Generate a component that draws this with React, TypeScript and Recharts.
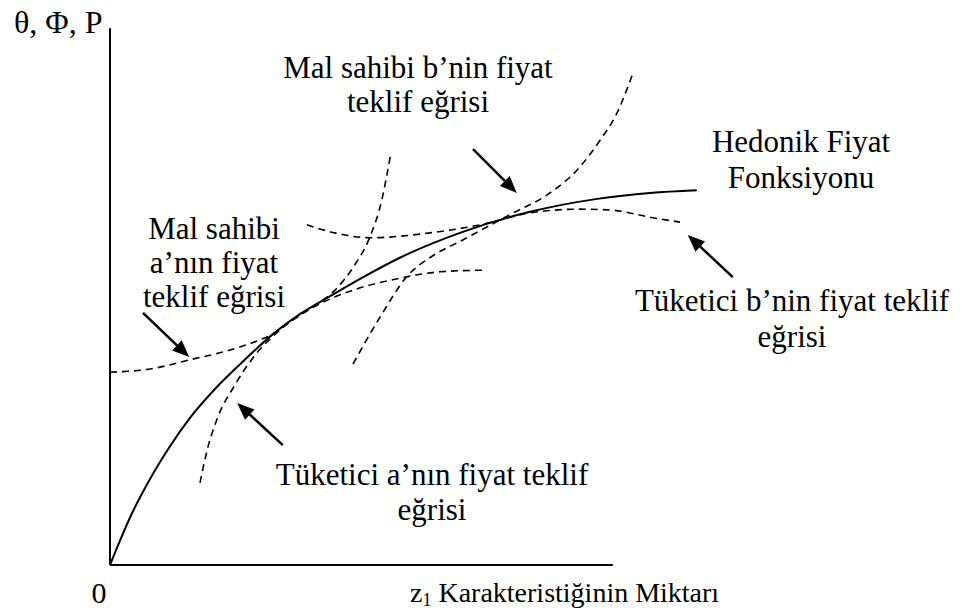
import React from "react";
import { LineChart, Line, XAxis, YAxis, ReferenceLine } from "recharts";

// Hedonic price function and the four bid / offer curves (x: quantity of z1, y: price)
const hedonicPrice = [
  { x: 0, y: 0 },
  { x: 0.17, y: 0.46 },
  { x: 0.33, y: 0.87 },
  { x: 0.62, y: 1.5 },
  { x: 1.0, y: 2.2 },
  { x: 1.33, y: 2.72 },
  { x: 1.75, y: 3.26 },
  { x: 2.17, y: 3.72 },
  { x: 2.72, y: 4.28 },
  { x: 3.17, y: 4.65 },
  { x: 3.67, y: 4.98 },
  { x: 4.25, y: 5.35 },
  { x: 4.83, y: 5.69 },
  { x: 5.88, y: 6.17 },
  { x: 7.0, y: 6.54 },
  { x: 8.12, y: 6.78 },
  { x: 9.0, y: 6.89 },
  { x: 9.78, y: 6.94 },
];

const sellerA = [
  { x: 0, y: 3.57 },
  { x: 0.67, y: 3.63 },
  { x: 1.33, y: 3.8 },
  { x: 2.0, y: 3.98 },
  { x: 2.5, y: 4.17 },
  { x: 2.72, y: 4.28 },
  { x: 3.0, y: 4.5 },
  { x: 3.45, y: 4.81 },
  { x: 4.0, y: 5.07 },
  { x: 4.83, y: 5.31 },
  { x: 5.5, y: 5.43 },
  { x: 6.22, y: 5.46 },
];

const consumerA = [
  { x: 1.5, y: 1.52 },
  { x: 1.62, y: 2.13 },
  { x: 1.78, y: 2.69 },
  { x: 2.08, y: 3.33 },
  { x: 2.42, y: 3.89 },
  { x: 2.72, y: 4.24 },
  { x: 3.08, y: 4.57 },
  { x: 3.45, y: 4.83 },
  { x: 3.75, y: 5.09 },
  { x: 4.08, y: 5.56 },
  { x: 4.33, y: 6.07 },
  { x: 4.53, y: 6.76 },
  { x: 4.67, y: 7.56 },
];

const consumerB = [
  { x: 3.28, y: 6.3 },
  { x: 3.75, y: 6.15 },
  { x: 4.33, y: 6.06 },
  { x: 5.33, y: 6.15 },
  { x: 6.17, y: 6.3 },
  { x: 7.0, y: 6.52 },
  { x: 7.83, y: 6.59 },
  { x: 8.38, y: 6.57 },
  { x: 9.0, y: 6.44 },
  { x: 9.5, y: 6.35 },
];

const sellerB = [
  { x: 4.05, y: 3.72 },
  { x: 4.5, y: 4.59 },
  { x: 4.97, y: 5.37 },
  { x: 5.33, y: 5.69 },
  { x: 5.88, y: 6.02 },
  { x: 6.72, y: 6.52 },
  { x: 7.28, y: 6.85 },
  { x: 7.83, y: 7.37 },
  { x: 8.17, y: 7.87 },
  { x: 8.45, y: 8.37 },
  { x: 8.7, y: 9.06 },
];

// Pointer arrows: [tail, head]
const arrows = [
  [{ x: 0.55, y: 4.67 }, { x: 1.32, y: 3.85 }],
  [{ x: 2.88, y: 2.22 }, { x: 2.12, y: 3.0 }],
  [{ x: 6.05, y: 7.7 }, { x: 6.78, y: 6.89 }],
  [{ x: 10.38, y: 5.33 }, { x: 9.63, y: 6.11 }],
];

const X_DOMAIN = [0, 11];
const Y_DOMAIN = [0, 10];
const X_AXIS_END = 8.38;
const Y_AXIS_END = 9.94;

const FONT = "'Liberation Serif', 'Times New Roman', serif";
const LABEL_SIZE = 31;

const ArrowShape = (props: any) => {
  const { x1, y1, x2, y2 } = props;
  const dx = x2 - x1;
  const dy = y2 - y1;
  const len = Math.sqrt(dx * dx + dy * dy) || 1;
  const ux = dx / len;
  const uy = dy / len;
  const headLen = 17;
  const half = 7;
  const bx = x2 - ux * headLen;
  const by = y2 - uy * headLen;
  const px = -uy * half;
  const py = ux * half;
  return (
    <g>
      <line x1={x1} y1={y1} x2={bx} y2={by} stroke="#000" strokeWidth={2.5} />
      <polygon
        points={`${x2},${y2} ${bx + px},${by + py} ${bx - px},${by - py}`}
        fill="#000"
      />
    </g>
  );
};

type Lbl = { lines: string[]; cx: number; y: number; gap: number };

const labels: Lbl[] = [
  { lines: ["Mal sahibi b\u2019nin fiyat", "teklif eğrisi"], cx: 418, y: 78, gap: 34 },
  { lines: ["Hedonik Fiyat", "Fonksiyonu"], cx: 801, y: 152, gap: 36 },
  { lines: ["Mal sahibi", "a\u2019nın fiyat", "teklif eğrisi"], cx: 214, y: 239, gap: 34 },
  { lines: ["Tüketici b\u2019nin fiyat teklif", "eğrisi"], cx: 792, y: 311, gap: 36 },
  { lines: ["Tüketici a\u2019nın fiyat teklif", "eğrisi"], cx: 432, y: 485, gap: 35 },
];

const dashed = "7 5";

export default function App() {
  return (
    <div style={{ position: "absolute", left: 0, top: 0, width: 971, height: 612, background: "#fff" }}>
      <LineChart
        width={971}
        height={612}
        margin={{ top: 25, right: 201, bottom: 47, left: 110 }}
      >
        <XAxis type="number" dataKey="x" domain={X_DOMAIN} hide allowDataOverflow />
        <YAxis type="number" dataKey="y" domain={Y_DOMAIN} hide allowDataOverflow />
        <Line data={sellerA} dataKey="y" type="monotone" dot={false} stroke="#000" strokeWidth={1.6} strokeDasharray={dashed} isAnimationActive={false} />
        <Line data={consumerA} dataKey="y" type="monotone" dot={false} stroke="#000" strokeWidth={1.6} strokeDasharray={dashed} isAnimationActive={false} />
        <Line data={consumerB} dataKey="y" type="monotone" dot={false} stroke="#000" strokeWidth={1.6} strokeDasharray={dashed} isAnimationActive={false} />
        <Line data={sellerB} dataKey="y" type="monotone" dot={false} stroke="#000" strokeWidth={1.6} strokeDasharray={dashed} isAnimationActive={false} />
        <Line data={hedonicPrice} dataKey="y" type="monotone" dot={false} stroke="#000" strokeWidth={2} isAnimationActive={false} />
        <ReferenceLine
          segment={[{ x: 0, y: 0 }, { x: 0, y: Y_AXIS_END }]}
          stroke="#000"
          strokeWidth={2}
          ifOverflow="visible"
        />
        <ReferenceLine
          segment={[{ x: 0, y: 0 }, { x: X_AXIS_END, y: 0 }]}
          stroke="#000"
          strokeWidth={2}
          ifOverflow="visible"
        />
        {arrows.map((seg, i) => (
          <ReferenceLine key={i} segment={seg} ifOverflow="visible" shape={ArrowShape} />
        ))}
      </LineChart>
      <svg
        width={971}
        height={612}
        style={{ position: "absolute", left: 0, top: 0, pointerEvents: "none" }}
      >
        <g fontFamily={FONT} fill="#000">
          <text x={14} y={33} fontSize={32}>θ, Φ, P</text>
          <text x={99} y={603} fontSize={30} textAnchor="middle">0</text>
          <text x={410} y={602} fontSize={28}>
            <tspan>z</tspan>
            <tspan fontSize={18} dy={4}>1</tspan>
            <tspan dy={-4}> Karakteristiğinin Miktarı</tspan>
          </text>
          {labels.map((l, i) => (
            <text key={i} x={l.cx} y={l.y} fontSize={LABEL_SIZE} textAnchor="middle">
              {l.lines.map((s, j) => (
                <tspan key={j} x={l.cx} dy={j === 0 ? 0 : l.gap}>{s}</tspan>
              ))}
            </text>
          ))}
        </g>
      </svg>
    </div>
  );
}
